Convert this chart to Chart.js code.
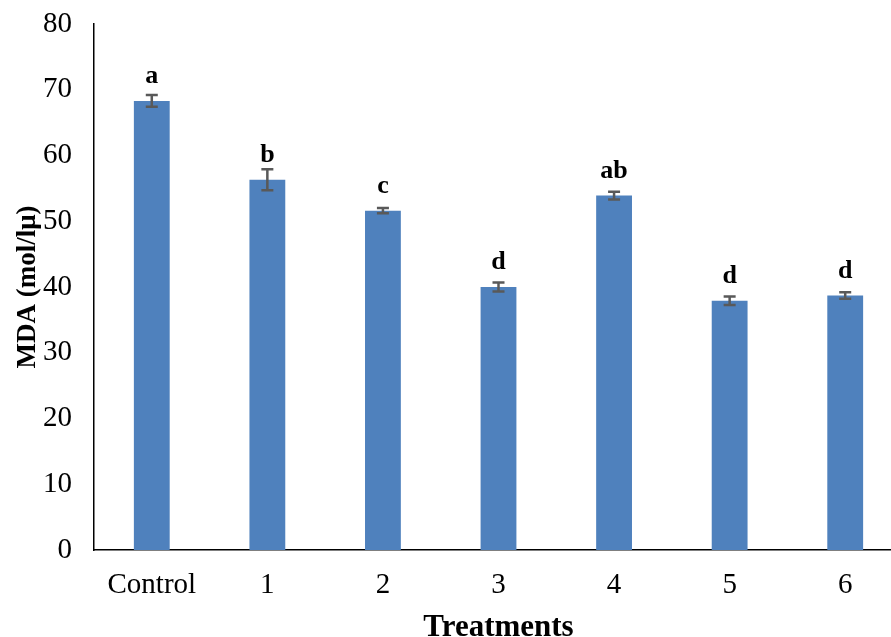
<!DOCTYPE html>
<html>
<head>
<meta charset="utf-8">
<script src="https://cdn.jsdelivr.net/npm/chart.js@4.4.1/dist/chart.umd.min.js"></script>
<style>
  html, body { margin: 0; padding: 0; background: #fff; overflow: hidden; }
  #wrap { width: 903px; height: 637px; }
</style>
</head>
<body>
<div id="wrap"><canvas id="c"></canvas></div>
<script>
// MDA content per treatment
const categories = ['Control', '1', '2', '3', '4', '5', '6'];
const mdaMeans   = [68.3, 56.3, 51.6, 40.0, 53.9, 37.9, 38.7];
const mdaErrors  = [0.9, 1.6, 0.4, 0.7, 0.6, 0.65, 0.5];
const sigLetters = ['a', 'b', 'c', 'd', 'ab', 'd', 'd'];
const yTicks     = [0, 10, 20, 30, 40, 50, 60, 70, 80];

const SERIF = "'Liberation Serif', 'Times New Roman', serif";

// Draws the error bars and the significance letters above each bar
const annotate = {
  id: 'annotate',
  afterDatasetsDraw(chart) {
    const ctx = chart.ctx;
    const y = chart.scales.y;
    const meta = chart.getDatasetMeta(0);
    ctx.save();
    meta.data.forEach((bar, i) => {
      const x = bar.x;
      const top = y.getPixelForValue(mdaMeans[i] + mdaErrors[i]);
      const bot = y.getPixelForValue(mdaMeans[i] - mdaErrors[i]);
      ctx.strokeStyle = '#595959';
      ctx.lineWidth = 2.5;
      ctx.beginPath();
      ctx.moveTo(x, top); ctx.lineTo(x, bot);
      ctx.moveTo(x - 6, top); ctx.lineTo(x + 6, top);
      ctx.moveTo(x - 6, bot); ctx.lineTo(x + 6, bot);
      ctx.stroke();

      ctx.fillStyle = '#000';
      ctx.font = 'bold 26px ' + SERIF;
      ctx.textAlign = 'center';
      ctx.textBaseline = 'alphabetic';
      ctx.fillText(sigLetters[i], x, y.getPixelForValue(mdaMeans[i]) - 18);
    });
    ctx.restore();
  }
};

new Chart(document.getElementById('c'), {
  type: 'bar',
  data: {
    labels: categories,
    datasets: [{
      data: mdaMeans,
      backgroundColor: '#4F81BD',
      borderWidth: 0,
      barPercentage: 0.31,
      categoryPercentage: 1.0
    }]
  },
  options: {
    responsive: true,
    maintainAspectRatio: false,
    animation: false,
    layout: { padding: 0 },
    plugins: { legend: { display: false }, tooltip: { enabled: false } },
    scales: {
      x: {
        offset: true,
        grid: { display: false },
        border: { display: true, color: '#000', width: 1.5 },
        ticks: { color: '#000', font: { family: SERIF, size: 29 }, padding: 10, maxRotation: 0 },
        title: {
          display: true, text: 'Treatments', color: '#000',
          font: { family: SERIF, size: 31, weight: 'bold', lineHeight: 1 },
          padding: { top: 0, bottom: -6 }
        },
        afterFit(scale) { scale.height = 87; }
      },
      y: {
        min: 0, max: 80,
        afterBuildTicks(scale) { scale.ticks = yTicks.map(v => ({ value: v })); },
        grid: { display: false },
        border: { display: true, color: '#000', width: 1.5 },
        ticks: { color: '#000', font: { family: SERIF, size: 29 }, padding: 14 },
        title: {
          display: true, text: 'MDA (mol/lμ)', color: '#000',
          font: { family: SERIF, size: 27, weight: 'bold' },
          padding: { top: 12, bottom: 0 }
        },
        afterFit(scale) {
          scale.width = 94;
          scale.paddingTop = 24;
          scale.paddingBottom = 0;
        }
      }
    }
  },
  plugins: [annotate]
});
</script>
</body>
</html>
